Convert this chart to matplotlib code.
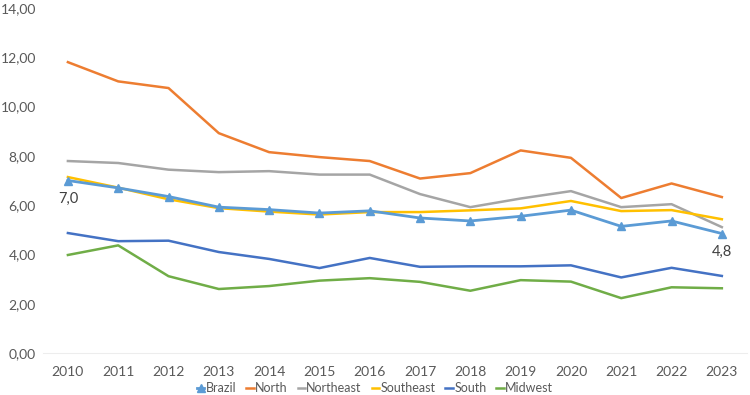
import matplotlib.pyplot as plt
from matplotlib.ticker import FuncFormatter

plt.rcParams['font.family'] = ['Lato', 'DejaVu Sans']

years = ['2010', '2011', '2012', '2013', '2014', '2015', '2016',
         '2017', '2018', '2019', '2020', '2021', '2022', '2023']

brazil = [7.0, 6.7, 6.35, 5.92, 5.82, 5.68, 5.77, 5.48, 5.36, 5.55, 5.80, 5.14, 5.36, 4.85]
north = [11.8, 11.02, 10.75, 8.92, 8.15, 7.95, 7.79, 7.08, 7.30, 8.22, 7.92, 6.29, 6.88, 6.33]
northeast = [7.79, 7.71, 7.44, 7.34, 7.38, 7.24, 7.24, 6.45, 5.92, 6.27, 6.57, 5.92, 6.04, 5.11]
southeast = [7.14, 6.71, 6.24, 5.88, 5.74, 5.62, 5.72, 5.72, 5.79, 5.87, 6.17, 5.76, 5.80, 5.43]
south = [4.87, 4.54, 4.56, 4.10, 3.82, 3.45, 3.86, 3.50, 3.52, 3.52, 3.56, 3.07, 3.46, 3.13]
midwest = [3.98, 4.37, 3.12, 2.60, 2.72, 2.94, 3.04, 2.89, 2.53, 2.96, 2.90, 2.23, 2.67, 2.63]

x = list(range(len(years)))

fig = plt.figure(figsize=(7.5, 3.95), dpi=100)
ax = fig.add_axes([0.057, 0.106, 0.939, 0.874])

ax.plot(x, brazil, color='#5B9BD5', linewidth=2, marker='^', markersize=6, label='Brazil', zorder=5)
ax.plot(x, north, color='#ED7D31', linewidth=1.8, label='North')
ax.plot(x, northeast, color='#A5A5A5', linewidth=1.8, label='Northeast')
ax.plot(x, southeast, color='#FFC000', linewidth=1.8, label='Southeast')
ax.plot(x, south, color='#4472C4', linewidth=1.8, label='South')
ax.plot(x, midwest, color='#70AD47', linewidth=1.8, label='Midwest')

# rótulos do primeiro e último ponto do Brasil
for i in [0, len(years) - 1]:
    ax.annotate(f'{brazil[i]:.1f}'.replace('.', ','), (x[i], brazil[i]),
                xytext=(0, -8), textcoords='offset points', ha='center', va='top',
                fontsize=10.5, color='#404040')

ax.set_xlim(-0.5, len(years) - 0.5)
ax.set_ylim(0, 14)
ax.set_yticks(range(0, 15, 2))
ax.yaxis.set_major_formatter(FuncFormatter(lambda v, p: f'{v:.2f}'.replace('.', ',')))
ax.set_xticks(x)
ax.set_xticklabels(years)

for s in ['top', 'right', 'left']:
    ax.spines[s].set_visible(False)
ax.spines['bottom'].set_color('#EDEDED')
ax.tick_params(axis='both', length=0, labelsize=10, colors='#595959')
ax.tick_params(axis='x', pad=9)
ax.tick_params(axis='y', pad=5)

fig.legend(loc='center', bbox_to_anchor=(0.5, 0.017), ncol=6, frameon=False,
           fontsize=9, handlelength=0.6, handletextpad=0.1, columnspacing=0.8,
           labelcolor='#595959', markerscale=0.9, borderpad=0, borderaxespad=0)

fig.savefig('out.png', dpi=100)
